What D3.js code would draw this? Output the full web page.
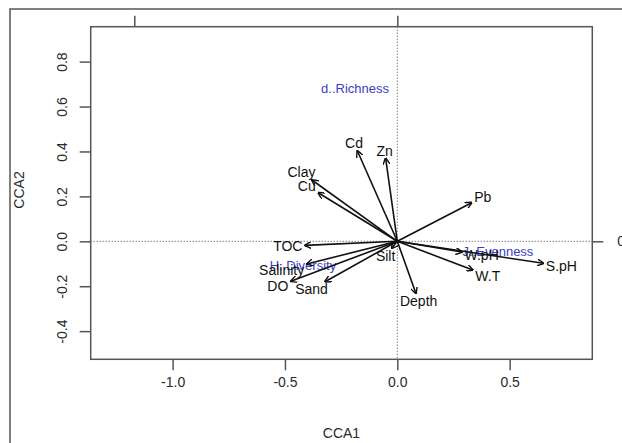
<!DOCTYPE html>
<html>
<head>
<meta charset="utf-8">
<script src="https://cdn.jsdelivr.net/npm/d3@7"></script>
<style>
  body { margin: 0; background: #fff; }
  text { font-family: "Liberation Sans", Arial, sans-serif; }
</style>
</head>
<body>
<div class="chart"></div>
<script>
// CCA biplot: environmental arrows + species (index) labels

var width = 622,
    height = 443;

// biplot arrows (CCA1, CCA2), already scaled like the figure
var envNames = ['Cd', 'Zn', 'Clay', 'Cu', 'TOC', 'Salinity', 'DO', 'Sand', 'Silt', 'Depth', 'Pb', 'W.pH', 'W.T', 'S.pH'];
var envCCA1 = [-0.178, -0.052, -0.380, -0.352, -0.411, -0.403, -0.474, -0.322, -0.025, 0.083, 0.331, 0.288, 0.336, 0.650];
var envCCA2 = [0.403, 0.370, 0.273, 0.216, -0.018, -0.101, -0.178, -0.180, -0.031, -0.232, 0.172, -0.048, -0.128, -0.098];

// species scores (diversity indices)
var sppNames = ['d..Richness', 'H..Diversity', 'J..Evenness'];
var sppCCA1 = [-0.188, -0.420, 0.448];
var sppCCA2 = [0.682, -0.109, -0.046];

var xTicks = [-1.0, -0.5, 0.0, 0.5];
var yTicks = [-0.4, -0.2, 0.0, 0.2, 0.4, 0.6, 0.8];
var arrowMul = 1.1705;   // top/right axes are on the arrow scale
var topTicks = [-1, 0];
var rightTicks = [0];

var box = {left: 90.7, right: 592.3, top: 26.7, bottom: 359.3};

var x = d3.scaleLinear().domain([-1.3645, 0.8678]).range([box.left, box.right]);
var y = d3.scaleLinear().domain([-0.5254, 0.9555]).range([box.bottom, box.top]);
var xTop = d3.scaleLinear().domain(x.domain().map(function(d) { return d / arrowMul; })).range(x.range());
var yRight = d3.scaleLinear().domain(y.domain().map(function(d) { return d / arrowMul; })).range(y.range());

var svg = d3.select('.chart').append('svg')
    .attr('width', width)
    .attr('height', height);

var grey = '#555';
var fmt = function(d) { return d.toFixed(1); };

// outer figure frame (cropped)
svg.append('path')
    .attr('d', 'M10,' + height + 'V9H' + width)
    .attr('fill', 'none')
    .attr('stroke', grey)
    .attr('stroke-width', 1.5);

// zero lines
svg.append('line')
    .attr('x1', x(0)).attr('x2', x(0))
    .attr('y1', box.top).attr('y2', box.bottom)
    .attr('stroke', '#444').attr('stroke-width', 1)
    .attr('stroke-dasharray', '1,2');
svg.append('line')
    .attr('x1', box.left).attr('x2', box.right)
    .attr('y1', y(0)).attr('y2', y(0))
    .attr('stroke', '#444').attr('stroke-width', 1)
    .attr('stroke-dasharray', '1,2');

// axes
var styleAxis = function(g) {
  g.select('.domain').remove();
  g.selectAll('line').attr('stroke', grey).attr('stroke-width', 1.5);
  g.selectAll('text').attr('fill', '#2a2a2a').style('font-size', '14px');
};

svg.append('g')
    .attr('transform', 'translate(0,' + box.bottom + ')')
    .call(d3.axisBottom(x).tickValues(xTicks).tickSize(11).tickPadding(7).tickFormat(fmt))
    .call(styleAxis);

var gy = svg.append('g')
    .attr('transform', 'translate(' + box.left + ',0)')
    .call(d3.axisLeft(y).tickValues(yTicks).tickSize(11).tickFormat(fmt))
    .call(styleAxis);
gy.selectAll('text')
    .attr('x', null)
    .attr('dy', '0.35em')
    .attr('text-anchor', 'middle')
    .attr('transform', 'translate(-28.5,0) rotate(-90)');

svg.append('g')
    .attr('transform', 'translate(0,' + box.top + ')')
    .call(d3.axisTop(xTop).tickValues(topTicks).tickSize(11).tickFormat(''))
    .call(styleAxis);

svg.append('g')
    .attr('transform', 'translate(' + box.right + ',0)')
    .call(d3.axisRight(yRight).tickValues(rightTicks).tickSize(11).tickPadding(14).tickFormat(function(d) { return d; }))
    .call(styleAxis);

// plot box
svg.append('rect')
    .attr('x', box.left).attr('y', box.top)
    .attr('width', box.right - box.left)
    .attr('height', box.bottom - box.top)
    .attr('fill', 'none')
    .attr('stroke', grey)
    .attr('stroke-width', 1.5);

// axis titles
svg.append('text')
    .attr('x', (box.left + box.right) / 2)
    .attr('y', 438)
    .attr('text-anchor', 'middle')
    .attr('fill', '#2a2a2a')
    .style('font-size', '14px')
    .text('CCA1');
svg.append('text')
    .attr('transform', 'translate(19,' + ((box.top + box.bottom) / 2 - 3) + ') rotate(-90)')
    .attr('dy', '0.35em')
    .attr('text-anchor', 'middle')
    .attr('fill', '#2a2a2a')
    .style('font-size', '14px')
    .text('CCA2');

// species labels
sppNames.forEach(function(name, i) {
  svg.append('text')
      .attr('x', x(sppCCA1[i]))
      .attr('y', y(sppCCA2[i]))
      .attr('dy', '0.35em')
      .attr('text-anchor', 'middle')
      .attr('fill', '#3c3cc4')
      .style('font-size', '13px')
      .text(name);
});

// arrows
svg.append('defs').append('marker')
    .attr('id', 'head')
    .attr('viewBox', '0 0 10 10')
    .attr('refX', 9).attr('refY', 5)
    .attr('markerWidth', 7).attr('markerHeight', 7)
    .attr('markerUnits', 'userSpaceOnUse')
    .attr('orient', 'auto')
  .append('path')
    .attr('d', 'M0,0L10,5L0,10')
    .attr('fill', 'none')
    .attr('stroke', '#111')
    .attr('stroke-width', 2);

var arrows = svg.append('g');
envNames.forEach(function(name, i) {
  arrows.append('line')
      .attr('x1', x(0)).attr('y1', y(0))
      .attr('x2', x(envCCA1[i])).attr('y2', y(envCCA2[i]))
      .attr('stroke', '#111')
      .attr('stroke-width', 1.6)
      .attr('marker-end', 'url(#head)');
});

// arrow labels: put the text box just beyond the arrow tip (like vegan)
envNames.forEach(function(name, i) {
  var t = svg.append('text')
      .attr('text-anchor', 'middle')
      .attr('dy', '0.35em')
      .attr('fill', '#111')
      .style('font-size', '14px')
      .text(name);
  var w = t.node().getComputedTextLength();
  var h = 10;
  var px = x(envCCA1[i]) - x(0),
      py = y(0) - y(envCCA2[i]);
  var b = py / px;
  var ox = Math.sign(px) * (w / 2 + h / 4),
      oy = 0.75 * h * Math.sign(py);
  var move = oy / b;
  if (isFinite(move) && Math.abs(move) <= Math.abs(ox)) {
    ox = move;
  } else {
    oy = b * ox;
  }
  t.attr('x', x(0) + px + ox)
   .attr('y', y(0) - (py + oy));
});
</script>
</body>
</html>
